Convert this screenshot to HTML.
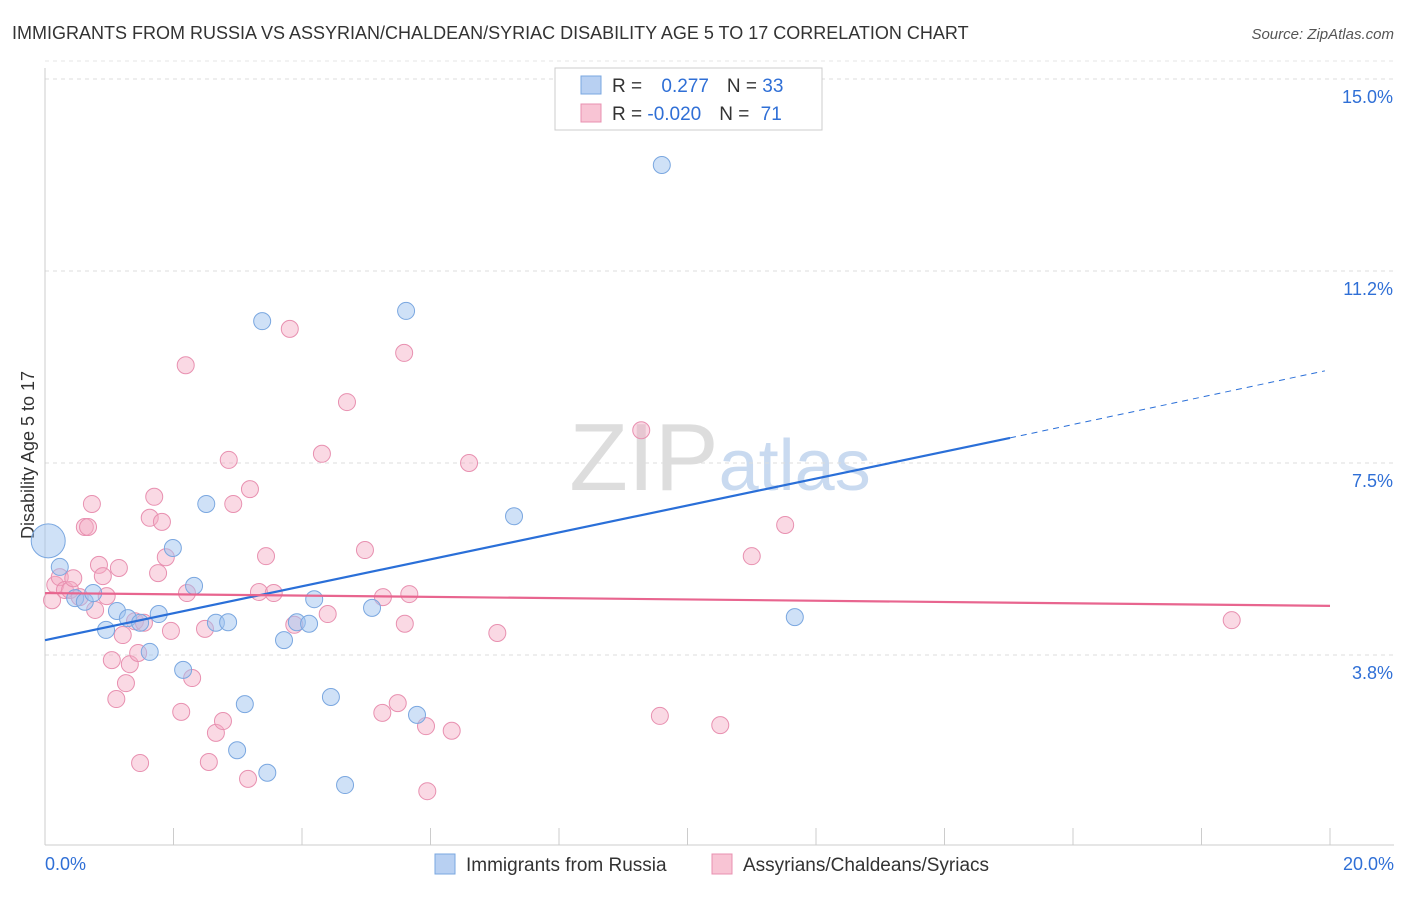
<!DOCTYPE html>
<html><head><meta charset="utf-8"><style>
body{margin:0;background:#fff;font-family:"Liberation Sans",sans-serif}
svg text{font-family:"Liberation Sans",sans-serif}
</style></head><body>
<svg id="c" width="1406" height="892" xmlns="http://www.w3.org/2000/svg">
<text x="12" y="39" font-size="18" fill="#333">IMMIGRANTS FROM RUSSIA VS ASSYRIAN/CHALDEAN/SYRIAC DISABILITY AGE 5 TO 17 CORRELATION CHART</text>
<text x="1394" y="39" font-size="15" fill="#555" font-style="italic" text-anchor="end">Source: ZipAtlas.com</text>
<text x="720" y="490" font-size="96" fill="#ddd" text-anchor="middle" font-family="Liberation Serif">ZIP<tspan fill="#c9daf0" font-family="Liberation Sans" font-size="72">atlas</tspan></text>
<text transform="translate(34,455) rotate(-90)" font-size="18" fill="#333" text-anchor="middle">Disability Age 5 to 17</text>
<g id="grid"></g><g id="marks"></g>
<g>
<rect x="555" y="68" width="267" height="62" fill="#fff" stroke="#ccc"/>
<rect x="581" y="76" width="20" height="18" fill="#b8d0f2" stroke="#7aa7e0"/>
<rect x="581" y="104" width="20" height="18" fill="#f8c4d4" stroke="#e890b0"/>
<text x="612" y="92" font-size="19" fill="#333">R = <tspan fill="#2f6fd6" dx="14">0.277</tspan><tspan dx="18">N = </tspan><tspan fill="#2f6fd6">33</tspan></text>
<text x="612" y="120" font-size="19" fill="#333">R = <tspan fill="#2f6fd6">-0.020</tspan><tspan dx="18">N = </tspan><tspan fill="#2f6fd6" dx="6">71</tspan></text>
</g>
<g>
<rect x="435" y="854" width="20" height="20" fill="#b8d0f2" stroke="#7aa7e0"/>
<text x="466" y="871" font-size="19" fill="#333">Immigrants from Russia</text>
<rect x="712" y="854" width="20" height="20" fill="#f8c4d4" stroke="#e890b0"/>
<text x="743" y="871" font-size="19" fill="#333">Assyrians/Chaldeans/Syriacs</text>
</g>
</svg>
<script>
const yTicks=[3.8,7.5,11.2,15.0];
const yTickVals=[3.75,7.5,11.25,15];
const xTickLabels=["0.0%","20.0%"];
const blueX=[0.05,0.23,0.47,0.62,0.75,0.95,1.12,1.29,1.48,1.63,1.77,1.99,2.15,2.32,2.51,2.66,2.85,3.11,2.99,3.38,3.46,3.72,3.92,4.11,4.19,4.45,4.67,5.09,5.62,5.79,7.30,9.60,11.67];
const blueY=[5.98,5.47,4.86,4.79,4.96,4.24,4.61,4.47,4.38,3.81,4.55,5.84,3.46,5.10,6.70,4.38,4.39,2.79,1.89,10.27,1.45,4.04,4.39,4.36,4.84,2.93,1.21,4.67,10.47,2.58,6.46,13.32,4.49];
const pinkX=[0.11,0.16,0.23,0.31,0.39,0.44,0.54,0.62,0.67,0.73,0.78,0.84,0.90,0.96,1.04,1.11,1.15,1.21,1.26,1.32,1.40,1.45,1.48,1.54,1.63,1.70,1.76,1.82,1.88,1.96,2.12,2.19,2.21,2.29,2.49,2.55,2.66,2.77,2.86,2.93,3.16,3.19,3.33,3.44,3.56,3.81,3.88,4.31,4.40,4.70,4.98,5.25,5.26,5.49,5.59,5.60,5.67,5.93,5.95,6.33,6.60,7.04,9.28,9.57,10.51,11.00,11.52,18.47];
const pinkY=[4.82,5.12,5.27,5.02,5.02,5.25,4.88,6.25,6.25,6.70,4.63,5.51,5.29,4.90,3.65,2.89,5.45,4.14,3.20,3.57,4.41,3.79,1.64,4.38,6.43,6.84,5.35,6.35,5.66,4.22,2.64,9.41,4.96,3.30,4.26,1.66,2.23,2.46,7.56,6.70,1.33,6.99,4.98,5.68,4.96,10.12,4.34,7.68,4.55,8.69,5.80,2.62,4.88,2.81,9.65,4.36,4.94,2.36,1.09,2.27,7.50,4.18,8.14,2.56,2.38,5.68,6.29,4.43];
const blueLine=[[0,4.04],[15.02,7.99],[19.92,9.30]];
const pinkLine=[[0,4.96],[20,4.71]];
const X=v=>45+v*1285/20, Y=v=>655-(v-3.75)*51.2;
const NS="http://www.w3.org/2000/svg";
const grid=document.getElementById('grid'), marks=document.getElementById('marks');
function mk(p,tag,a){const e=document.createElementNS(NS,tag);for(const k in a)e.setAttribute(k,a[k]);p.appendChild(e);return e;}
yTickVals.forEach((v,i)=>{
 const l=mk(grid,'line',{x1:45,x2:1394,y1:Y(v),y2:Y(v),stroke:'#ddd','stroke-dasharray':'4,4'});
 
 
 const t=mk(grid,'text',{x:1393,y:Y(v)+24,'font-size':18,fill:'#2f6fd6','text-anchor':'end'});
 t.textContent=yTicks[i].toFixed(1)+'%';
 
 
});
const tl=mk(grid,'line',{x1:45,x2:1394,y1:Y(15)-18,y2:Y(15)-18,stroke:'#e6e6e6','stroke-dasharray':'4,4'});
mk(grid,'line',{x1:45,x2:45,y1:68,y2:845,stroke:'#ccc'});
mk(grid,'line',{x1:45,x2:1394,y1:845,y2:845,stroke:'#ccc'});
for(let i=0;i<=10;i++){const e=mk(grid,'line',{x1:X(i*2),x2:X(i*2),y1:828,y2:845,stroke:'#ccc'});
 
 }
[[0,'start',45],[20,'end',1394]].forEach((d,i)=>{const t=mk(grid,'text',{x:d[2],y:870,'font-size':18,fill:'#2f6fd6','text-anchor':d[1]});t.textContent=xTickLabels[i];
 
 });
pinkX.forEach((x,i)=>{const c=mk(marks,'circle',{cx:X(x),cy:Y(pinkY[i]),r:8.5,fill:'rgba(245,170,195,0.45)',stroke:'#e890b0','stroke-width':1});
 
 });
blueX.forEach((x,i)=>{const c=mk(marks,'circle',{cx:X(x),cy:Y(blueY[i]),r:i==0?17:8.5,fill:'rgba(160,195,240,0.5)',stroke:'#7aa7e0','stroke-width':1});
 
 });
const bl=mk(marks,'line',{x1:X(blueLine[0][0]),y1:Y(blueLine[0][1]),x2:X(blueLine[1][0]),y2:Y(blueLine[1][1]),stroke:'#2a6fd8','stroke-width':2.2});


const bd=mk(marks,'line',{x1:X(blueLine[1][0]),y1:Y(blueLine[1][1]),x2:X(blueLine[2][0]),y2:Y(blueLine[2][1]),stroke:'#2a6fd8','stroke-width':1,'stroke-dasharray':'6,5'});


const pl=mk(marks,'line',{x1:X(pinkLine[0][0]),y1:Y(pinkLine[0][1]),x2:X(pinkLine[1][0]),y2:Y(pinkLine[1][1]),stroke:'#e8658f','stroke-width':2.2});


</script>
</body></html>
